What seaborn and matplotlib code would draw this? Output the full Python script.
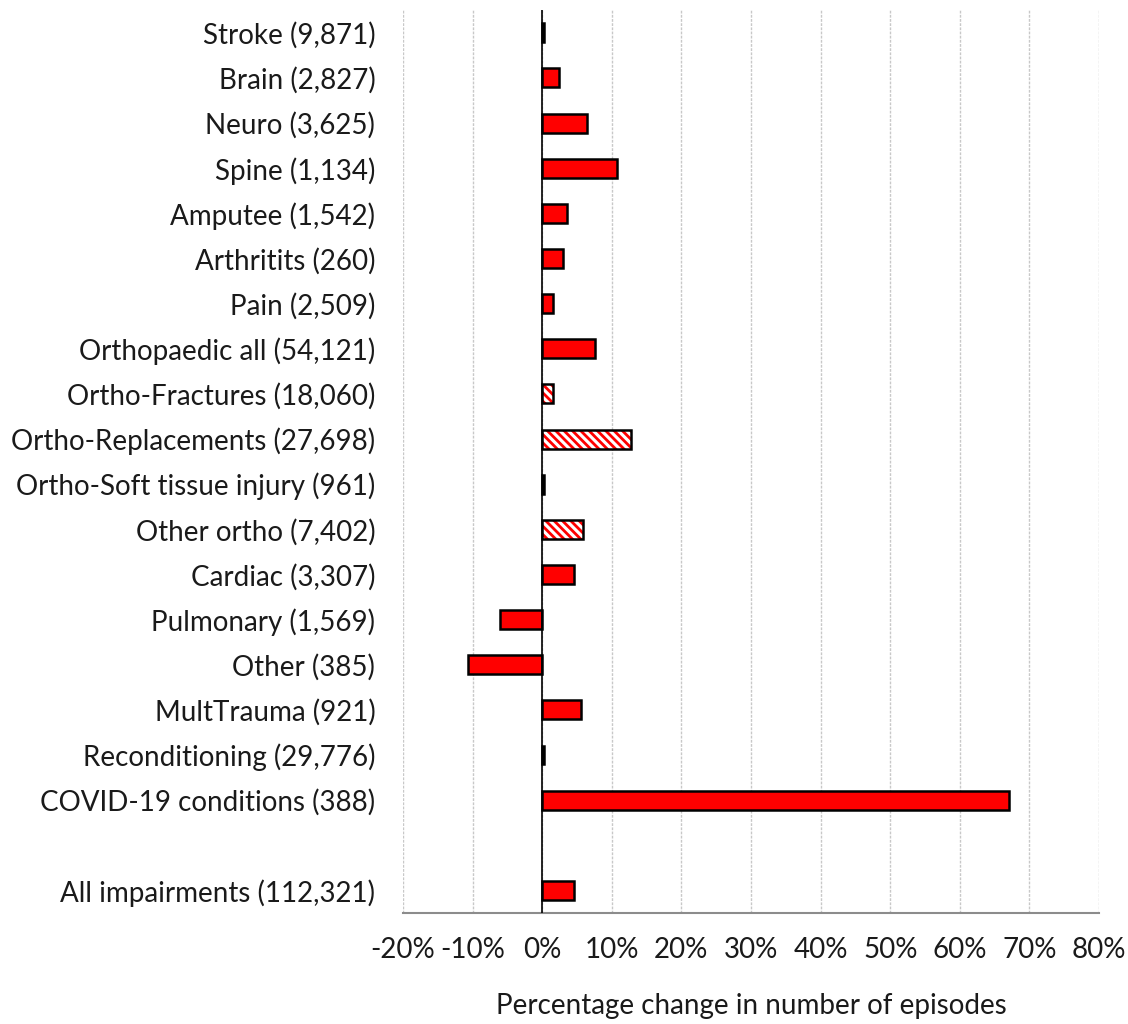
import matplotlib
matplotlib.use("Agg")
import matplotlib.pyplot as plt
import matplotlib.patches as mpatches
from matplotlib.ticker import MultipleLocator, FuncFormatter
import seaborn as sns
import pandas as pd

# categories in display order (blank slot before the total row)
categories = ["Stroke (9,871)", "Brain (2,827)", "Neuro (3,625)", "Spine (1,134)",
              "Amputee (1,542)", "Arthritits (260)", "Pain (2,509)",
              "Orthopaedic all (54,121)", "Ortho-Fractures (18,060)",
              "Ortho-Replacements (27,698)", "Ortho-Soft tissue injury (961)",
              "Other ortho (7,402)", "Cardiac (3,307)", "Pulmonary (1,569)",
              "Other (385)", "MultTrauma (921)", "Reconditioning (29,776)",
              "COVID-19 conditions (388)", "All impairments (112,321)"]
pct_change = [0.3, 2.4, 6.4, 10.7, 3.5, 3.0, 1.5, 7.6, 1.5, 12.7, 0.3, 5.8,
              4.6, -6.0, -10.6, 5.5, 0.3, 67.1, 4.5]
hatched = ["Ortho-Fractures (18,060)", "Ortho-Replacements (27,698)", "Other ortho (7,402)"]
gap_label = " "

order = categories[:-1] + [gap_label] + categories[-1:]
df = pd.DataFrame({"impairment": categories, "change": pct_change})
df["style"] = ["hatched" if c in hatched else "solid" for c in categories]

sns.set_style("white")
plt.rcParams["font.family"] = ["Lato", "DejaVu Sans"]
plt.rcParams["hatch.linewidth"] = 2.0

fig = plt.figure(figsize=(11.28, 10.24), dpi=100)
ax = fig.add_axes([0.3573, 0.1084, 0.6170, 0.8816])

sns.barplot(data=df, x="change", y="impairment", order=order, orient="h",
            hue="style", hue_order=["solid", "hatched"],
            palette={"solid": "#ff0000", "hatched": "#ff0000"}, dodge=False,
            saturation=1, width=0.42, edgecolor="black", linewidth=1.8,
            legend=False, ax=ax, zorder=3)

# hatched bars: red/white diagonal stripes with a black outline on top
for p in ax.containers[1]:
    p.set_facecolor("white")
    p.set_edgecolor("#ff0000")
    p.set_hatch("\\\\\\\\")
    p.set_linewidth(0)
    ax.add_patch(mpatches.Rectangle((p.get_x(), p.get_y()), p.get_width(), p.get_height(),
                                    fill=False, edgecolor="black", linewidth=1.8, zorder=4))

ax.set_xlim(-20, 80)
ax.set_ylim(len(order) - 0.5, -0.5)
ax.xaxis.set_major_locator(MultipleLocator(10))
ax.xaxis.set_major_formatter(FuncFormatter(lambda v, _: f"{v:.0f}%"))
ax.grid(axis="x", color="#c8c8c8", linestyle=(0, (2, 1)), linewidth=1, zorder=0)
ax.axvline(0, color="black", linewidth=1.2, zorder=5)

for s in ["top", "right", "left"]:
    ax.spines[s].set_visible(False)
ax.spines["bottom"].set_color("#8c8c8c")
ax.spines["bottom"].set_linewidth(1.5)

ax.tick_params(axis="y", length=0, pad=20, labelsize=20, labelcolor="#1a1a1a")
ax.tick_params(axis="x", length=0, pad=17, labelsize=20, labelcolor="#1a1a1a")
ax.set_ylabel("")
ax.set_xlabel("Percentage change in number of episodes", fontsize=20, color="#1a1a1a", labelpad=22)

fig.savefig("out.png", dpi=100)
